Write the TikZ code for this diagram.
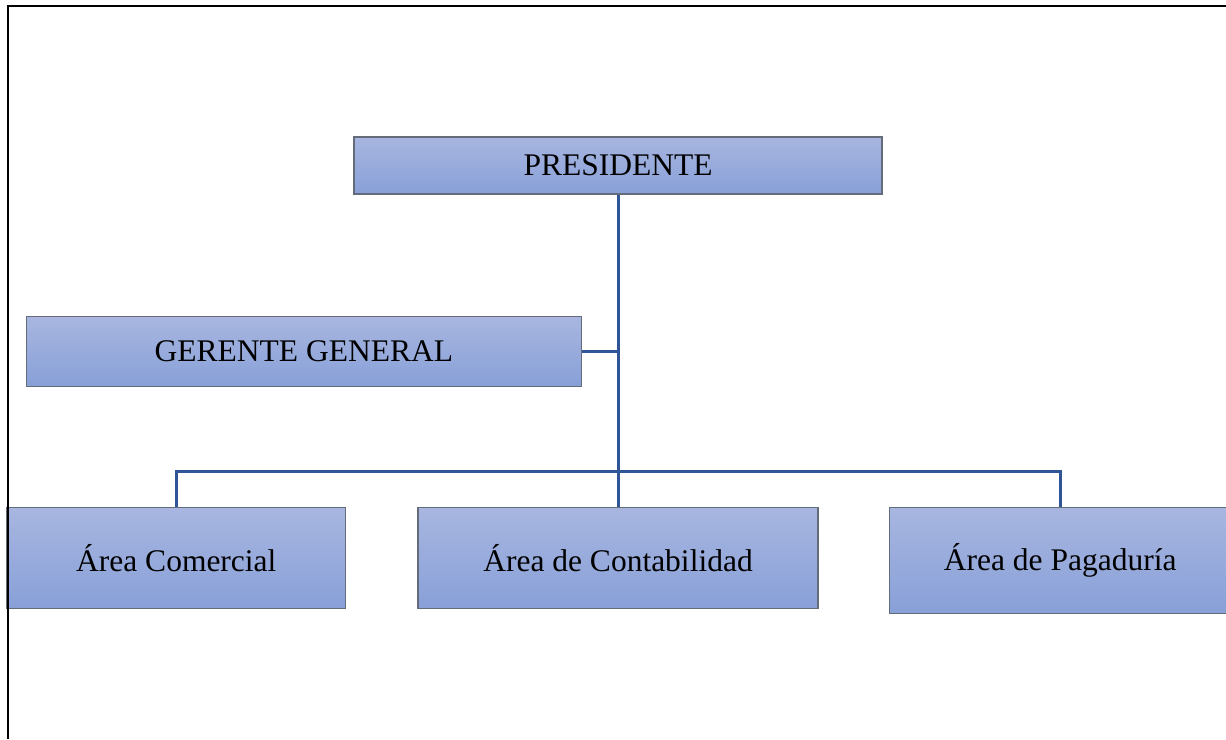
\documentclass[tikz,border=0pt]{standalone}
\usepackage{fontspec}
\setmainfont{Liberation Serif}
\usepackage{tikz}
\usetikzlibrary{positioning}

\definecolor{boxtop}{RGB}{168,182,224}
\definecolor{boxbot}{RGB}{136,160,216}
\definecolor{boxline}{RGB}{100,108,122}
\definecolor{linkblue}{RGB}{47,85,151}

\begin{document}
\begin{tikzpicture}[
x=0.5pt, y=-0.5pt,
node distance=156pt and 35.5pt,
org/.style={draw=boxline, line width=0.6pt, top color=boxtop, bottom color=boxbot, rectangle, align=center, inner sep=0pt, font=\fontsize{15.75}{18}\selectfont},
link/.style={draw=linkblue, line width=1.5pt},
frame/.style={draw=black, line width=1.3pt},
]
\useasboundingbox (0,0) rectangle (1226,739);
\clip (0,0) rectangle (1226,739);
\node[org, minimum width=264pt, minimum height=28.5pt] (pres) at (618,165.5) {PRESIDENTE};
\node[org, minimum width=277.5pt, minimum height=35pt, below left=60.5pt and 18pt of pres.south, anchor=north east] (ger) {GERENTE GENERAL};
\node[org, minimum width=200pt, minimum height=50.5pt, below=of pres] (cont) {Área de Contabilidad};
\node[org, minimum width=169.5pt, minimum height=50.5pt, left=of cont] (com) {Área Comercial};
\node[org, minimum width=171pt, minimum height=53pt, right=35pt of cont.north east, anchor=north west] (pag) {Área de Pagaduría};
\coordinate (bus) at (618,471);
\draw[link] (pres.south) -- (cont.north);
\draw[link] (ger.east) -- (ger.east -| pres.south);
\draw[link] (com.north) -- (com.north |- bus) -- (pag.north |- bus) -- (pag.north);
\draw[frame] (1226,6) -- (8,6) -- (8,739);
\end{tikzpicture}
\end{document}
